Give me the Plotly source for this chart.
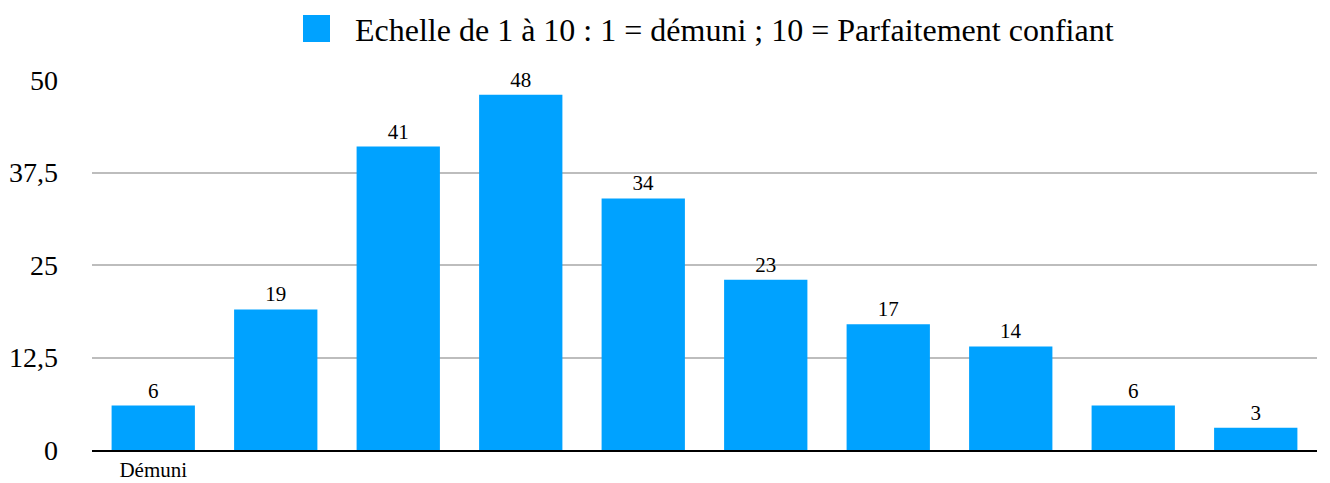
import plotly.graph_objects as go

categories = ["1", "2", "3", "4", "5", "6", "7", "8", "9", "10"]
tick_labels = ["Démuni", "", "", "", "", "", "", "", "", ""]
values = [6, 19, 41, 48, 34, 23, 17, 14, 6, 3]
series_name = "Echelle de 1 à 10 : 1 = démuni ; 10 = Parfaitement confiant"
y_ticks = [0, 12.5, 25, 37.5, 50]

color = "#00A2FF"
font = "Liberation Serif, Times New Roman, serif"

fig = go.Figure()
fig.add_trace(go.Bar(
    x=categories, y=values, name=series_name,
    marker=dict(color=color, line=dict(width=0)),
    text=[str(v) for v in values], textposition="outside",
    textfont=dict(size=21, color="black", family=font),
    cliponaxis=False,
))

# page body has an 8px margin, so the figure is offset by 8px
fig.update_layout(
    width=1322, height=475,
    margin=dict(l=84, r=13, t=72, b=33),
    paper_bgcolor="white", plot_bgcolor="white",
    separators=", ",
    bargap=0.32,
    showlegend=False,
    font=dict(family=font, color="black"),
)
fig.update_xaxes(
    tickmode="array", tickvals=categories, ticktext=tick_labels,
    tickfont=dict(size=21, family=font, color="black"),
    showline=True, linecolor="black", linewidth=2,
    showgrid=False, ticks="", ticklabelstandoff=0, automargin=False,
)
fig.update_yaxes(
    range=[0, 50], tickmode="array", tickvals=y_ticks,
    tickfont=dict(size=28, family=font, color="black"),
    showgrid=True, gridcolor="#BDBDBD", gridwidth=2,
    zeroline=False, showline=False, ticks="", ticklabelstandoff=33,
    automargin=False,
)

# legend drawn as square + text
fig.add_shape(type="rect", xref="paper", yref="paper",
              x0=(303 - 92) / 1225, x1=(330 - 92) / 1225,
              y0=1 + (80 - 42) / 370, y1=1 + (80 - 15) / 370,
              fillcolor=color, line=dict(width=0))
fig.add_annotation(text=series_name, xref="paper", yref="paper",
                   x=(353 - 92) / 1225, y=1 + (80 - 30) / 370,
                   xanchor="left", yanchor="middle", showarrow=False,
                   font=dict(size=32, family=font, color="black"))

fig.write_html("out.html")
